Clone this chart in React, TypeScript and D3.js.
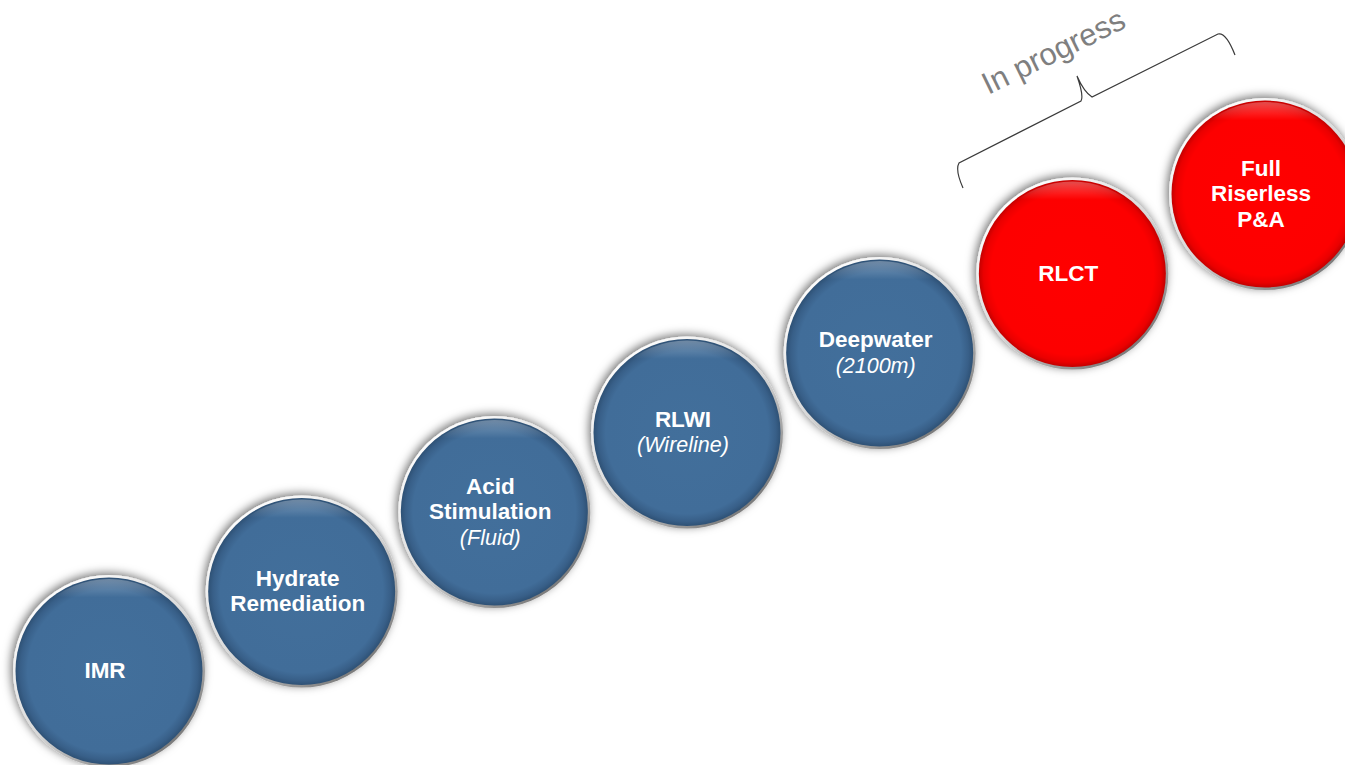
import React from "react";
import * as d3 from "d3";

const steps = ["IMR", "Hydrate Remediation", "Acid Stimulation", "RLWI", "Deepwater", "RLCT", "Full Riserless P&A"];
const boldLines: string[][] = [["IMR"], ["Hydrate", "Remediation"], ["Acid", "Stimulation"], ["RLWI"], ["Deepwater"], ["RLCT"], ["Full", "Riserless", "P&A"]];
const italicLines: string[] = ["", "", "(Fluid)", "(Wireline)", "(2100m)", "", ""];
const status: string[] = ["done", "done", "done", "done", "done", "progress", "progress"];
const bracketLabel = "In progress";

const W = 1345, H = 765;

export default function App() {
  const x = d3.scaleLinear().domain([0, steps.length - 1]).range([109, 1265]);
  const y = d3.scaleLinear().domain([0, steps.length - 1]).range([671, 194]);
  const r = 96;
  const lh = 25.5;

  const bracket = d3.path();
  bracket.moveTo(963, 188);
  bracket.quadraticCurveTo(955, 170, 959, 163);
  bracket.lineTo(1081, 101);
  bracket.quadraticCurveTo(1084, 96, 1077, 76);
  bracket.quadraticCurveTo(1084, 92, 1092, 97);
  bracket.lineTo(1218, 34);
  bracket.quadraticCurveTo(1226, 32, 1235, 55);

  return (
    <svg width={W} height={H} style={{ position: "absolute", left: 0, top: 0 }} fontFamily="'Liberation Sans', Arial, sans-serif">
      <defs>
        <filter id="shadow" x="-30%" y="-30%" width="160%" height="160%">
          <feGaussianBlur in="SourceAlpha" stdDeviation="5" />
          <feOffset dx="-2" dy="-2" result="b" />
          <feFlood floodColor="#000" floodOpacity="0.55" />
          <feComposite in2="b" operator="in" />
          <feMerge>
            <feMergeNode />
            <feMergeNode in="SourceGraphic" />
          </feMerge>
        </filter>
        <linearGradient id="rim" x1="0.15" y1="0.1" x2="0.85" y2="0.95">
          <stop offset="0" stopColor="#ffffff" />
          <stop offset="0.5" stopColor="#d8d8d8" />
          <stop offset="1" stopColor="#6e6e6e" />
        </linearGradient>
        <radialGradient id="blueFill" cx="0.5" cy="0.5" r="0.5">
          <stop offset="0" stopColor="#426f9b" />
          <stop offset="0.87" stopColor="#416d99" />
          <stop offset="0.95" stopColor="#385f88" />
          <stop offset="1" stopColor="#2e5175" />
        </radialGradient>
        <radialGradient id="redFill" cx="0.5" cy="0.5" r="0.5">
          <stop offset="0" stopColor="#ff0000" />
          <stop offset="0.87" stopColor="#fd0000" />
          <stop offset="0.95" stopColor="#ea0000" />
          <stop offset="1" stopColor="#c40000" />
        </radialGradient>
        <linearGradient id="gloss" x1="0" y1="0" x2="0" y2="1">
          <stop offset="0" stopColor="#ffffff" stopOpacity="0.3" />
          <stop offset="0.1" stopColor="#ffffff" stopOpacity="0.0" />
          <stop offset="1" stopColor="#ffffff" stopOpacity="0" />
        </linearGradient>
      </defs>
      <rect width={W} height={H} fill="#ffffff" />
      {steps.map((s, i) => {
        const cx = x(i), cy = y(i);
        const fill = status[i] === "progress" ? "url(#redFill)" : "url(#blueFill)";
        const lines = boldLines[i];
        const total = lines.length + (italicLines[i] ? 1 : 0);
        const y0 = cy - ((total - 1) * lh) / 2 + 7;
        return (
          <g key={s}>
            <circle cx={cx} cy={cy} r={r} fill="url(#rim)" filter="url(#shadow)" />
            <circle cx={cx} cy={cy} r={r - 2.5} fill={fill} />
            <circle cx={cx} cy={cy} r={r - 4} fill="url(#gloss)" />
            {lines.map((l, j) => (
              <text key={j} x={cx - 4} y={y0 + j * lh} textAnchor="middle" fill="#ffffff" fontWeight="bold" fontSize={22.5}>
                {l}
              </text>
            ))}
            {italicLines[i] && (
              <text x={cx - 4} y={y0 + lines.length * lh} textAnchor="middle" fill="#ffffff" fontStyle="italic" fontSize={21.5}>
                {italicLines[i]}
              </text>
            )}
          </g>
        );
      })}
      <path d={bracket.toString()} fill="none" stroke="#3a3a3a" strokeWidth={1.2} />
      <text x={1058} y={61} textAnchor="middle" fill="#7f7f7f" fontSize={31} transform="rotate(-26 1058 61)">
        {bracketLabel}
      </text>
    </svg>
  );
}
